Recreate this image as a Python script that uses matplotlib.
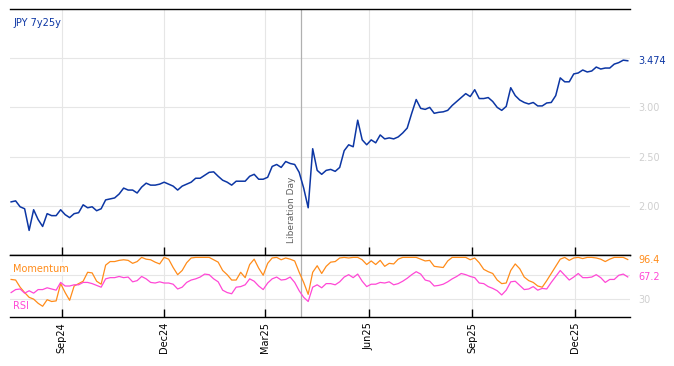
"""
JPY 7y25y swap spread with Momentum / RSI panel
"""

import numpy as np
import pandas as pd
import matplotlib.pyplot as plt
import matplotlib.dates as mdates

# ==========================================================
# Data (one point every 4 days)
# ==========================================================

dates = pd.date_range("2024-07-18", periods=138, freq="4D")

jpy_7y25y = [
    2.04, 2.05, 1.99, 1.97, 1.75, 1.96, 1.86, 1.79, 1.92, 1.90,
    1.90, 1.96, 1.91, 1.88, 1.92, 1.93, 2.01, 1.98, 1.99, 1.95,
    1.97, 2.06, 2.07, 2.08, 2.12, 2.18, 2.16, 2.16, 2.13, 2.19,
    2.23, 2.21, 2.21, 2.22, 2.24, 2.22, 2.20, 2.16, 2.20, 2.22,
    2.24, 2.28, 2.28, 2.31, 2.34, 2.345, 2.30, 2.26, 2.24, 2.21,
    2.25, 2.25, 2.25, 2.30, 2.32, 2.27, 2.27, 2.29, 2.40, 2.42,
    2.39, 2.45, 2.43, 2.42, 2.34, 2.18, 1.98, 2.58, 2.36, 2.32,
    2.36, 2.37, 2.35, 2.39, 2.56, 2.62, 2.60, 2.87, 2.67, 2.62,
    2.67, 2.64, 2.72, 2.68, 2.69, 2.68, 2.70, 2.74, 2.79, 2.94,
    3.08, 2.99, 2.98, 3.00, 2.94, 2.95, 2.955, 2.97, 3.02, 3.06,
    3.10, 3.14, 3.11, 3.18, 3.09, 3.09, 3.10, 3.06, 3.00, 2.97,
    3.01, 3.20, 3.12, 3.075, 3.05, 3.035, 3.05, 3.015, 3.015, 3.045,
    3.05, 3.12, 3.30, 3.26, 3.26, 3.34, 3.35, 3.38, 3.36, 3.37,
    3.41, 3.39, 3.40, 3.40, 3.44, 3.455, 3.48, 3.474,
]

momentum = [
    63, 62, 50, 41, 33, 30, 23, 18, 29, 26,
    27, 56, 41, 28, 52, 56, 60, 75, 74, 60,
    55, 87, 93, 93, 95, 96, 95, 90, 93, 100,
    97, 96, 92, 89, 100, 97, 83, 71, 78, 91,
    99, 100, 100, 100, 100, 96, 92, 78, 71, 62,
    62, 75, 66, 88, 97, 82, 70, 90, 99, 100,
    96, 99, 97, 94, 75, 58, 38, 75, 86, 73,
    85, 92, 93, 99, 100, 99, 100, 100, 96, 88,
    94, 88, 95, 85, 90, 89, 97, 100, 100, 100,
    100, 97, 94, 95, 85, 84, 83, 94, 100, 100,
    100, 100, 96, 99, 91, 80, 76, 73, 62, 56,
    57, 78, 89, 81, 67, 61, 58, 52, 50, 61,
    73, 85, 97, 100, 95, 99, 100, 98, 100, 100,
    99, 97, 93, 97, 100, 100, 100, 96.4,
]

rsi = [
    41, 46, 47, 40, 44, 40, 46, 46, 49, 47,
    45, 58, 52, 52, 54, 54, 58, 58, 56, 53,
    50, 64, 66, 66, 68, 66, 67, 59, 61, 68,
    64, 58, 57, 59, 57, 57, 55, 47, 50, 58,
    62, 64, 67, 72, 71, 64, 59, 45, 41, 39,
    50, 51, 54, 64, 60, 52, 46, 57, 64, 67,
    62, 63, 67, 58, 44, 33, 26, 50, 54, 49,
    56, 56, 54, 59, 67, 71, 66, 72, 60, 51,
    55, 55, 58, 57, 59, 54, 56, 60, 65, 71,
    76, 72, 62, 60, 52, 53, 55, 59, 64, 68,
    73, 71, 68, 66, 57, 56, 51, 48, 44, 37,
    45, 59, 60, 53, 46, 47, 51, 45, 48, 47,
    58, 68, 78, 70, 62, 67, 73, 66, 66, 67,
    71, 66, 58, 63, 63, 70, 72, 67.2,
]

quarter_ticks = pd.to_datetime([
    "2024-09-01", "2024-12-01", "2025-03-01",
    "2025-06-01", "2025-09-01", "2025-12-01",
])
quarter_labels = ["Sep24", "Dec24", "Mar25", "Jun25", "Sep25", "Dec25"]

event_date = pd.Timestamp("2025-04-02")
event_label = "Liberation Day"

# ==========================================================
# Style
# ==========================================================

BLUE = "#0c36a4"
ORANGE = "#ff8c1a"
PINK = "#ff48d6"
GRID = "#e6e6e6"
TICK_GREY = "#cfcfcf"

x_min = pd.Timestamp("2024-07-17")
x_max = pd.Timestamp("2026-01-19")

fig = plt.figure(figsize=(6.74, 3.66), dpi=100)

ax = fig.add_axes([10 / 674, 1 - 255 / 366, 620 / 674, 246 / 366])
ax2 = fig.add_axes([10 / 674, 1 - 317 / 366, 620 / 674, 62 / 366], sharex=ax)

for a in (ax, ax2):
    a.spines["left"].set_visible(False)
    a.spines["right"].set_visible(False)
    a.spines["top"].set_linewidth(1.0)
    a.spines["bottom"].set_linewidth(1.0)
    a.grid(True, color=GRID, linewidth=0.8)
    a.set_axisbelow(True)
    a.yaxis.tick_right()
    a.tick_params(axis="y", length=0, pad=6, labelsize=7, labelcolor=TICK_GREY)
    a.tick_params(axis="x", direction="in", length=6, width=1.0, top=False)
    a.axvline(event_date, color="#b0b0b0", linewidth=0.9, zorder=1)

# ==========================================================
# Top panel
# ==========================================================

ax.plot(dates, jpy_7y25y, color=BLUE, linewidth=1.1, zorder=3)

ax.set_ylim(1.5, 4.0)
ax.set_yticks([2.0, 2.5, 3.0, 3.5])
ax.set_yticklabels(["2.00", "2.50", "3.00", ""])
ax.set_xlim(x_min, x_max)
ax.tick_params(axis="x", labelbottom=False)

ax.text(0.005, 0.945, "JPY 7y25y", transform=ax.transAxes,
        color=BLUE, fontsize=7, va="center", ha="left")

ax.annotate(f"{jpy_7y25y[-1]:.3f}", xy=(1, jpy_7y25y[-1]),
            xycoords=("axes fraction", "data"), xytext=(6, 0),
            textcoords="offset points", color=BLUE, fontsize=7,
            va="center", ha="left")

ax.text(event_date - pd.Timedelta(days=9), 1.62, event_label,
        rotation=90, color="#606060", fontsize=6.5,
        ha="center", va="bottom")

# ==========================================================
# Bottom panel
# ==========================================================

ax2.plot(dates, momentum, color=ORANGE, linewidth=0.9, zorder=3)
ax2.plot(dates, rsi, color=PINK, linewidth=0.9, zorder=3)

ax2.set_ylim(0, 104)
ax2.set_yticks([30, 70])
ax2.set_yticklabels(["30", ""])

ax2.text(0.005, 0.78, "Momentum", transform=ax2.transAxes, color=ORANGE,
         fontsize=7, va="center", ha="left",
         bbox=dict(facecolor="white", edgecolor="none", alpha=0.7, pad=1))
ax2.text(0.005, 0.17, "RSI", transform=ax2.transAxes, color=PINK,
         fontsize=7, va="center", ha="left",
         bbox=dict(facecolor="white", edgecolor="none", alpha=0.7, pad=1))

for series, color in ((momentum, ORANGE), (rsi, PINK)):
    ax2.annotate(f"{series[-1]:.1f}", xy=(1, series[-1]),
                 xycoords=("axes fraction", "data"), xytext=(6, 0),
                 textcoords="offset points", color=color, fontsize=7,
                 va="center", ha="left")

ax2.set_xticks(quarter_ticks)
ax2.set_xticklabels(quarter_labels, rotation=90, fontsize=7)
ax2.set_xlim(x_min, x_max)

plt.savefig("out.png", dpi=100)
